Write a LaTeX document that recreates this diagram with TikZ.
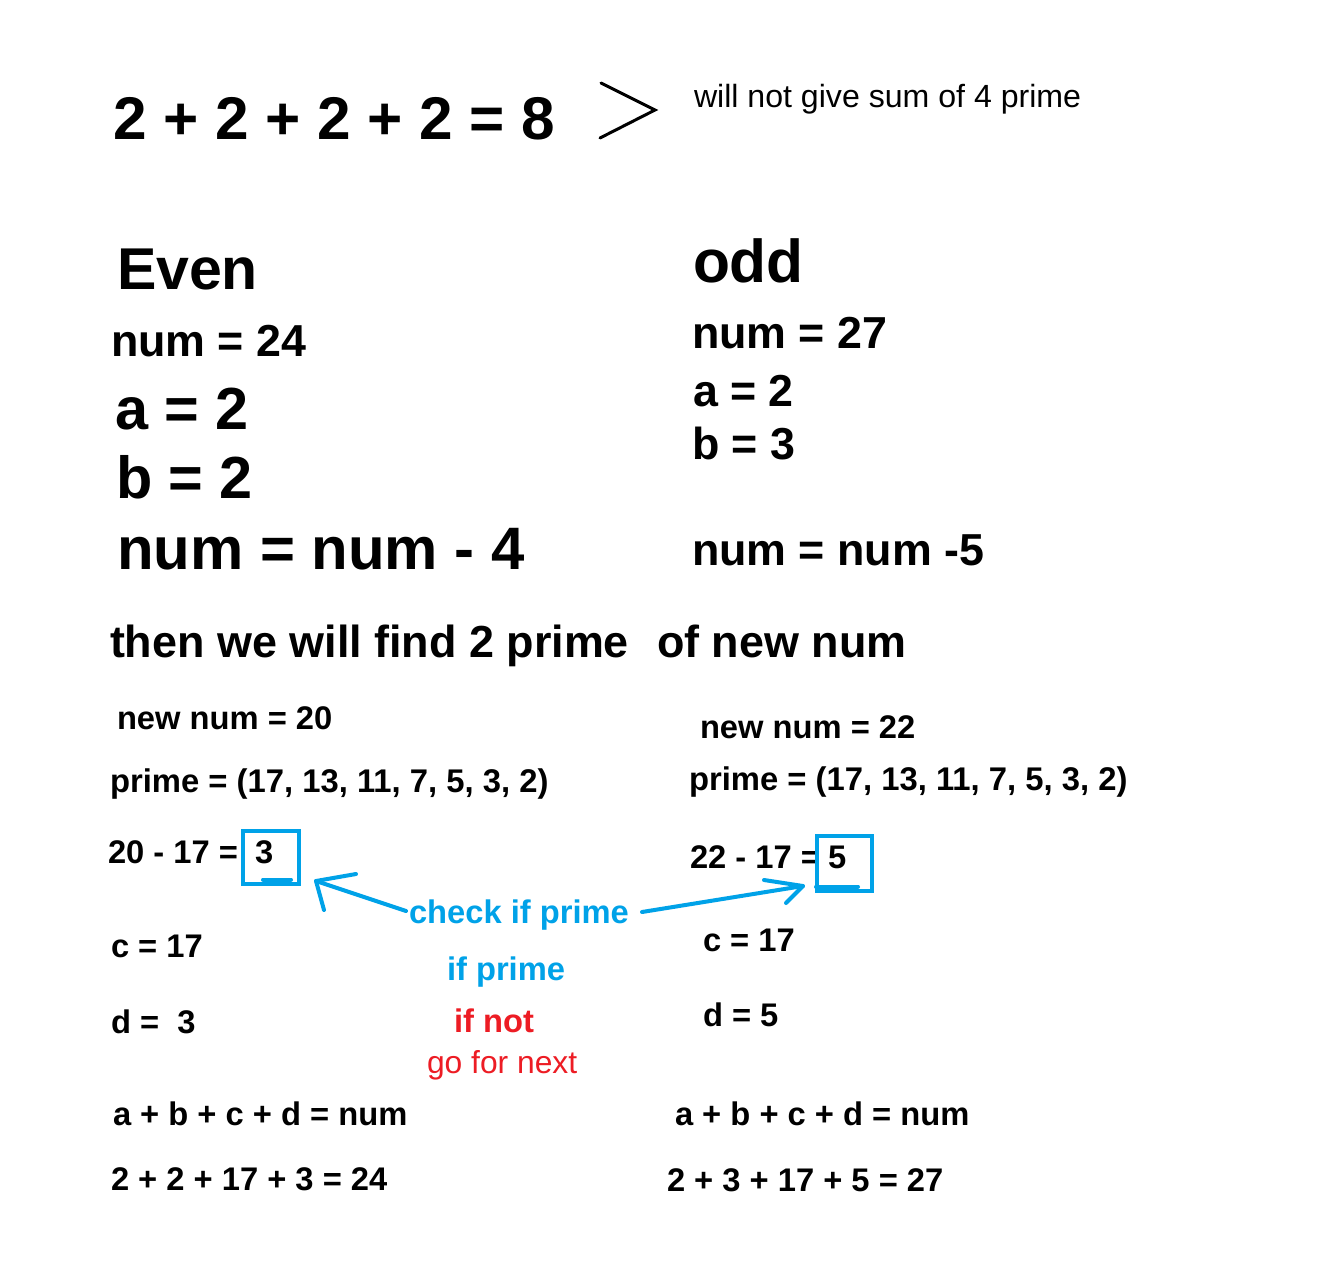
\documentclass[tikz,border=0pt]{standalone}
\usepackage{fontspec}
\setmainfont{Liberation Sans}
\definecolor{pblue}{HTML}{00A2E8}
\definecolor{pred}{HTML}{ED1C24}
\newcommand\fsz[1]{\fontsize{#1pt}{#1pt}\selectfont}
\tikzset{
  txt/.style={anchor=base west, inner sep=0pt, outer sep=0pt, font=\bfseries},
  big/.style={txt, font=\fsz{59.9}\bfseries},
  mid/.style={txt, font=\fsz{44.8}\bfseries},
  sml/.style={txt, font=\fsz{32.7}\bfseries},
  note/.style={txt, font=\fsz{32.1}},
  hand/.style={line width=4pt, line cap=round, line join=round, pblue},
  boxline/.style={line width=4pt, pblue}
}
\begin{document}
\begin{tikzpicture}[x=1pt, y=-1pt]
\useasboundingbox (0,0) rectangle (1334,1283);
\fill[white] (0,0) rectangle (1334,1283);

% top line
\node[big, font=\fsz{60.3}\bfseries] (top) at (113,139) {2 + 2 + 2 + 2 = 8};
\coordinate (gt1) at (601,83);
\coordinate (gt2) at (655,110);
\coordinate (gt3) at (600,138);
\draw[line width=3pt, line cap=round, line join=miter] (gt1) -- (gt2) -- (gt3);
\node[note] (wont) at (694,107) {will not give sum of 4 prime};

% even column
\node[big, font=\fsz{59}\bfseries] (even) at (117,289) {Even};
\node[mid] (numL) at (111,356) {num = 24};
\node[big, font=\fsz{59.4}\bfseries] (aL) at (115,429) {a = 2};
\node[big, font=\fsz{59.4}\bfseries] (bL) at (116,498) {b = 2};
\node[big] (subL) at (117,569) {num = num - 4};

% odd column
\node[big, font=\fsz{60.5}\bfseries] (odd) at (693,282) {odd};
\node[mid] (numR) at (692,348) {num = 27};
\node[mid] (aR) at (693,406) {a = 2};
\node[mid] (bR) at (692,459) {b = 3};
\node[mid] (subR) at (692,565) {num = num -5};

% then line
\node[mid, font=\fsz{44.9}\bfseries] (then) at (110,657) {then we will find 2 prime};
\node[mid, font=\fsz{44.9}\bfseries] (ofnew) at (657,657) {of new num};

% left lower
\node[sml] (nnL) at (117,729) {new num = 20};
\node[sml, font=\fsz{32.8}\bfseries] (prL) at (110,792) {prime = (17, 13, 11, 7, 5, 3, 2)};
\node[sml] (difL) at (108,863) {20 - 17 =};
\node[sml] (threeL) at (255,863) {3};
\draw[boxline] (243,831) rectangle (299,884);
\draw[boxline, line cap=round] (263,879.5) -- (291,879.5);
\node[sml] (cL) at (111,957) {c = 17};
\node[sml] (dL) at (111,1033) {d =\ \ 3};
\node[sml] (sumL) at (113,1125) {a + b + c + d = num};
\node[sml] (valL) at (111,1190) {2 + 2 + 17 + 3 = 24};

% right lower
\node[sml] (nnR) at (700,738) {new num = 22};
\node[sml, font=\fsz{32.8}\bfseries] (prR) at (689,790) {prime = (17, 13, 11, 7, 5, 3, 2)};
\node[sml] (difR) at (690,868) {22 - 17 =};
\node[sml] (fiveR) at (828,868) {5};
\draw[boxline] (817,836) rectangle (872,891);
\draw[boxline, line cap=round] (816,886.5) -- (858,886.5);
\node[sml] (cR) at (703,951) {c = 17};
\node[sml] (dR) at (703,1026) {d = 5};
\node[sml] (sumR) at (675,1125) {a + b + c + d = num};
\node[sml] (valR) at (667,1191) {2 + 3 + 17 + 5 = 27};

% middle notes
\node[sml, text=pblue] (check) at (409,923) {check if prime};
\node[sml, text=pblue] (ifp) at (447,980) {if prime};
\node[sml, text=pred] (ifnot) at (454,1032) {if not};
\node[note, text=pred, font=\fsz{31.8}] (gonext) at (427,1073) {go for next};

% hand-drawn arrows
\coordinate (la0) at (406,911);
\coordinate (latip) at (316,881);
\coordinate (lah1) at (356,874);
\coordinate (lah2) at (324,910);
\draw[hand] (la0) -- (latip);
\draw[hand] (lah1) -- (latip) -- (lah2);
\coordinate (ra0) at (642,912);
\coordinate (ratip) at (803,886);
\coordinate (rah1) at (764,880);
\coordinate (rah2) at (786,903);
\draw[hand] (ra0) -- (ratip);
\draw[hand] (rah1) -- (ratip) -- (rah2);
\end{tikzpicture}
\end{document}
